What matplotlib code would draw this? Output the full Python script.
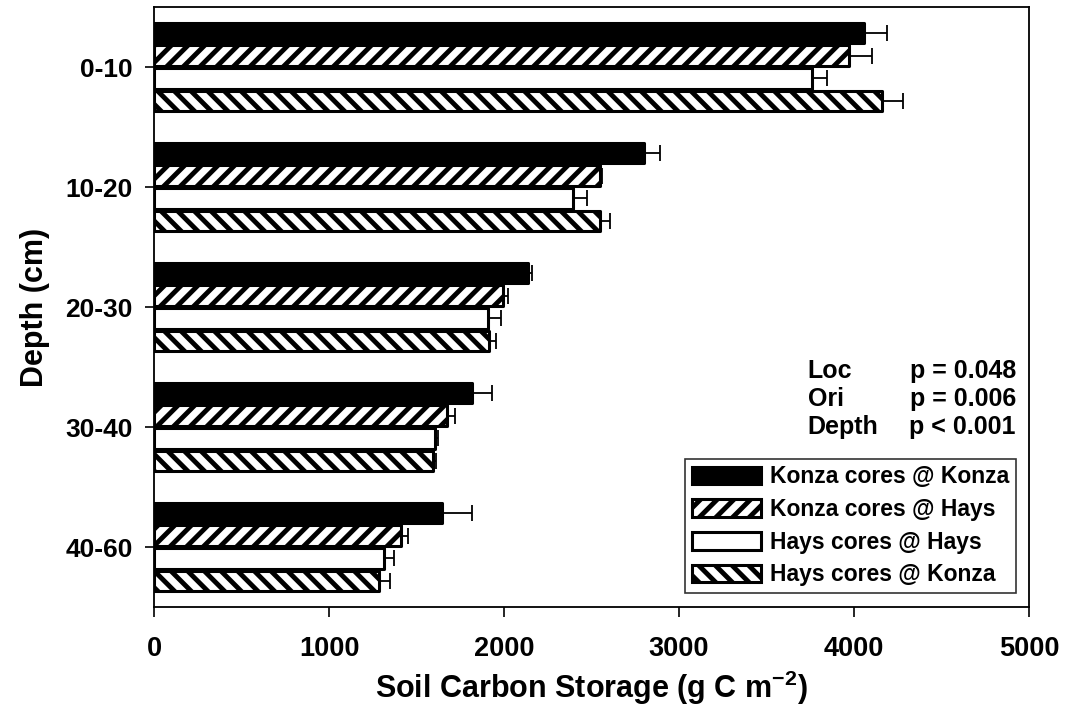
import numpy as np
import matplotlib
matplotlib.use("Agg")
import matplotlib.pyplot as plt

plt.rcParams['font.family'] = ['Liberation Sans', 'DejaVu Sans']
plt.rcParams['font.weight'] = 'bold'
plt.rcParams['axes.labelweight'] = 'bold'
plt.rcParams['mathtext.fontset'] = 'custom'
plt.rcParams['mathtext.rm'] = 'Liberation Sans:bold'
plt.rcParams['mathtext.bf'] = 'Liberation Sans:bold'
plt.rcParams['mathtext.it'] = 'Liberation Sans:bold'
plt.rcParams['mathtext.default'] = 'bf'
plt.rcParams['hatch.linewidth'] = 3.5

depths = ['0-10', '10-20', '20-30', '30-40', '40-60']
series_names = ['Konza cores @ Konza', 'Konza cores @ Hays',
                'Hays cores @ Hays', 'Hays cores @ Konza']
konza_at_konza = [4058, 2802, 2135, 1815, 1644]
konza_at_konza_err = [132, 92, 23, 114, 171]
konza_at_hays = [3973, 2546, 1992, 1672, 1410]
konza_at_hays_err = [131, 14, 28, 46, 40]
hays_at_hays = [3761, 2392, 1906, 1604, 1313]
hays_at_hays_err = [87, 85, 74, 17, 57]
hays_at_konza = [4161, 2551, 1912, 1592, 1284]
hays_at_konza_err = [120, 52, 40, 18, 63]
stats_terms = ['Loc', 'Ori', 'Depth']
stats_p = ['p = 0.048', 'p = 0.006', 'p < 0.001']

values = [konza_at_konza, konza_at_hays, hays_at_hays, hays_at_konza]
errors = [konza_at_konza_err, konza_at_hays_err, hays_at_hays_err, hays_at_konza_err]
faces = ['black', 'white', 'white', 'white']
hatches = [None, '//', None, '\\\\']

fig = plt.figure(figsize=(10.66, 7.06), dpi=100)
ax = fig.add_axes([0.1445, 0.1402, 0.9653 - 0.1445, 0.990 - 0.1402])

y = np.arange(len(depths))
pitch = 0.19
height = 0.17
for i, (vals, errs) in enumerate(zip(values, errors)):
    pos = y + (i - 1.5) * pitch
    ax.barh(pos, vals, height=height, color=faces[i], edgecolor='black',
            linewidth=2.2, hatch=hatches[i], label=series_names[i],
            joinstyle='round', zorder=2)
    ax.errorbar(vals, pos, xerr=[np.zeros(len(vals)), errs], fmt='none',
                ecolor='black', elinewidth=1.3, capsize=6, capthick=1.3,
                zorder=3)

ax.set_xlim(0, 5000)
ax.set_ylim(4.5, -0.5)
ax.set_xticks([0, 1000, 2000, 3000, 4000, 5000])
ax.set_yticks(y)
ax.set_yticklabels(depths)
ax.tick_params(axis='x', direction='out', length=7, width=1.2, labelsize=19.5, pad=14)
ax.tick_params(axis='y', direction='out', length=6.5, width=1.2, labelsize=19, pad=9)
for s in ax.spines.values():
    s.set_linewidth(1.3)

ax.set_xlabel('Soil Carbon Storage (g C m$^{-2}$)', fontsize=22, labelpad=5)
ax.set_ylabel('Depth (cm)', fontsize=22, labelpad=11)

for k, (term, p) in enumerate(zip(stats_terms, stats_p)):
    yy = 2.53 + k * 0.233
    ax.text(0.747, 1 - (yy + 0.5) / 5, term, transform=ax.transAxes,
            fontsize=18, ha='left', va='center')
    ax.text(0.985, 1 - (yy + 0.5) / 5, p, transform=ax.transAxes,
            fontsize=18, ha='right', va='center')

leg = ax.legend(loc='lower right', bbox_to_anchor=(0.985, 0.023), fontsize=16.5,
                frameon=True, fancybox=False, edgecolor='black',
                handlelength=3.0, handleheight=0.8, labelspacing=0.42,
                borderpad=0.3, handletextpad=0.4, borderaxespad=0)
leg.get_frame().set_linewidth(1.2)

fig.savefig('out.png', dpi=100)
